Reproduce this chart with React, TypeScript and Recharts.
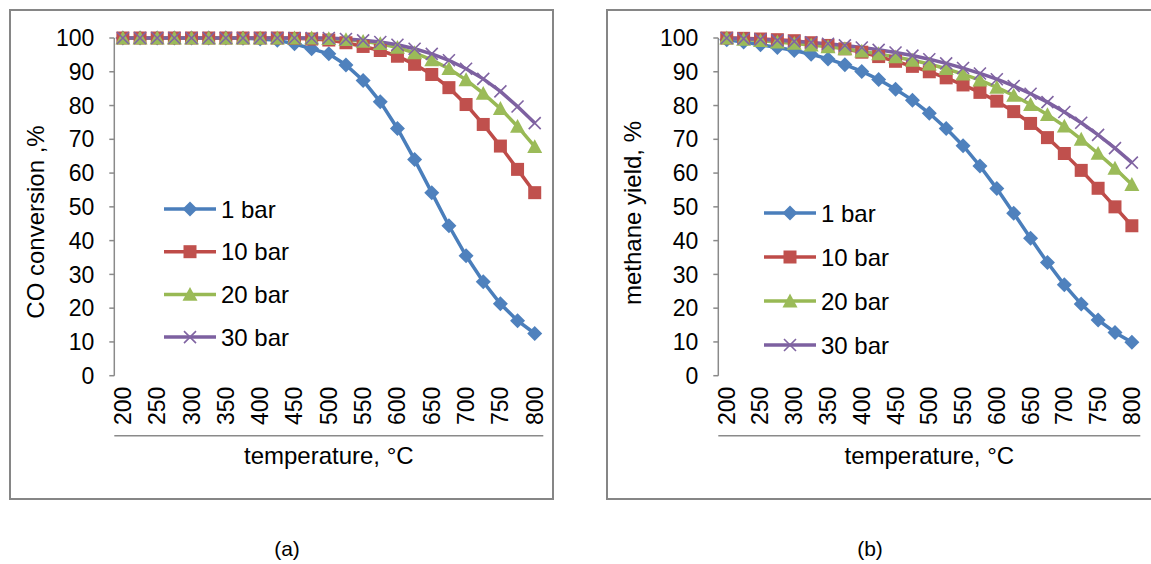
import { LineChart, Line, XAxis, YAxis } from "recharts";

// temperature categories, °C
const temps = [200, 225, 250, 275, 300, 325, 350, 375, 400, 425, 450, 475, 500, 525, 550, 575, 600, 625, 650, 675, 700, 725, 750, 775, 800];
const tempLabels = [200, 250, 300, 350, 400, 450, 500, 550, 600, 650, 700, 750, 800];
const yTicks = [0, 10, 20, 30, 40, 50, 60, 70, 80, 90, 100];

// (a) CO conversion, %
const co1 = [100, 100, 100, 100, 100, 100, 100, 99.9, 99.7, 99.3, 98.3, 96.8, 95.3, 92, 87.4, 81.1, 73.2, 64, 54.2, 44.4, 35.5, 27.8, 21.3, 16.3, 12.5];
const co10 = [100, 100, 100, 100, 100, 100, 100, 100, 100, 100, 99.9, 99.7, 99.4, 98.6, 97.5, 96.3, 94.6, 92.2, 89.2, 85.3, 80.3, 74.4, 68, 61.1, 54.2];
const co20 = [100, 100, 100, 100, 100, 100, 100, 100, 100, 100, 100, 100, 99.8, 99.5, 99, 98.3, 97.2, 95.6, 93.5, 90.9, 87.6, 83.6, 79.1, 73.8, 67.8];
const co30 = [100, 100, 100, 100, 100, 100, 100, 100, 100, 100, 100, 100, 100, 99.7, 99.3, 98.8, 98, 96.8, 95.3, 93.4, 90.9, 87.9, 84.2, 79.7, 74.8];

// (b) methane yield, %
const ch1 = [99.5, 98.8, 98, 97.2, 96.3, 95.2, 93.8, 92.1, 90.1, 87.7, 84.8, 81.6, 77.7, 73.2, 68.1, 62.1, 55.4, 48.1, 40.7, 33.5, 26.9, 21.2, 16.5, 12.8, 9.9];
const ch10 = [100, 99.9, 99.7, 99.5, 99.2, 98.6, 97.8, 96.8, 95.8, 94.5, 93.1, 91.6, 90, 88.2, 86.1, 83.9, 81.3, 78.2, 74.7, 70.5, 65.8, 60.8, 55.5, 50, 44.4];
const ch20 = [100, 99.6, 99.2, 98.8, 98.4, 97.9, 97.4, 96.8, 96.1, 95.3, 94.4, 93.4, 92.3, 90.9, 89.3, 87.5, 85.4, 83, 80.3, 77.3, 73.9, 70, 65.8, 61.4, 56.6];
const ch30 = [100, 99.8, 99.6, 99.3, 99, 98.7, 98.3, 97.8, 97.2, 96.5, 95.7, 94.8, 93.7, 92.5, 91.1, 89.5, 87.8, 85.8, 83.5, 81, 78.1, 74.9, 71.3, 67.4, 63.1];

const seriesNames = ["1 bar", "10 bar", "20 bar", "30 bar"];

const FONT = "'Liberation Sans', Arial, sans-serif";
const AXIS = "#8a8a8a";
const TICK_FS = 23;
const TITLE_FS = 24;

const styles = [
  { kind: "diamond", fill: "#4F81BD", line: "#4A7EBB" },
  { kind: "square", fill: "#C0504D", line: "#BE4B48" },
  { kind: "triangle", fill: "#9BBB59", line: "#98B954" },
  { kind: "cross", fill: "#8064A2", line: "#7D60A0" },
];

const half = (temps[1] - temps[0]) / 2;
const boundaries = [...temps.map((t) => t - half), temps[temps.length - 1] + half];
const domain = [boundaries[0], boundaries[boundaries.length - 1]];

function buildRows(series: number[][]) {
  return temps.map((t, i) => {
    const row: Record<string, number> = { t };
    series.forEach((s, k) => (row["s" + k] = s[i]));
    return row;
  });
}

function Mark({ cx, cy, kind, color }: { cx: number; cy: number; kind: string; color: string }) {
  if (cx == null || cy == null) return null;
  if (kind === "diamond") {
    const r = 7.5;
    return <path d={`M${cx},${cy - r}L${cx + r},${cy}L${cx},${cy + r}L${cx - r},${cy}Z`} fill={color} />;
  }
  if (kind === "square") {
    const s = 6.5;
    return <rect x={cx - s} y={cy - s} width={2 * s} height={2 * s} fill={color} />;
  }
  if (kind === "triangle") {
    const r = 7.5;
    return <path d={`M${cx},${cy - r}L${cx + r},${cy + r * 0.85}L${cx - r},${cy + r * 0.85}Z`} fill={color} />;
  }
  const r = 6;
  return (
    <path
      d={`M${cx - r},${cy - r}L${cx + r},${cy + r}M${cx - r},${cy + r}L${cx + r},${cy - r}`}
      stroke={color}
      strokeWidth={1.6}
      fill="none"
    />
  );
}

function RotTick(props: any) {
  const { x, y, payload } = props;
  const ty = y + 11;
  return (
    <text
      x={x}
      y={ty}
      transform={`rotate(-90 ${x} ${ty})`}
      textAnchor="end"
      dominantBaseline="central"
      fontSize={TICK_FS}
      fontFamily={FONT}
      fill="#000"
    >
      {payload.value}
    </text>
  );
}

interface PanelProps {
  left: number;
  plotLeft: number;
  series: number[][];
  yTitle: string;
  yTitleX: number;
  yTitleY: number;
  legendX: number;
  legendY: number;
  legendGap: number;
  caption: string;
  captionX: number;
}

function Panel(p: PanelProps) {
  const rows = buildRows(p.series);
  const chartW = 545;
  const plotCenter = p.left + p.plotLeft + (chartW - p.plotLeft - 10.7) / 2;
  return (
    <>
      <div
        style={{
          position: "absolute",
          left: p.left,
          top: 9,
          width: p.left > 600 ? 580 : chartW,
          height: 491,
          border: "2px solid #868686",
          boxSizing: "border-box",
        }}
      />
      <div style={{ position: "absolute", left: p.left, top: 0 }}>
        <LineChart
          width={chartW}
          height={500}
          data={rows}
          margin={{ top: 38, right: 10.7, bottom: 58.3, left: p.plotLeft - 60 }}
        >
          <XAxis
            xAxisId="ticks"
            type="number"
            dataKey="t"
            domain={domain}
            ticks={boundaries}
            interval={0}
            tick={false}
            height={6}
            tickSize={6}
            stroke={AXIS}
            strokeWidth={1.5}
          />
          <XAxis
            xAxisId="labels"
            type="number"
            dataKey="t"
            domain={domain}
            ticks={tempLabels}
            interval={0}
            axisLine={false}
            tickLine={false}
            tickSize={0}
            tickMargin={0}
            height={60}
            tick={<RotTick />}
          />
          <YAxis
            domain={[0, 100]}
            ticks={yTicks}
            interval={0}
            width={60}
            tickSize={5}
            tickMargin={15}
            stroke={AXIS}
            strokeWidth={1.5}
            tick={{ fill: "#000", fontSize: TICK_FS, fontFamily: FONT }}
          />
          {p.series.map((_, k) => (
            <Line
              key={k}
              xAxisId="ticks"
              dataKey={"s" + k}
              stroke={styles[k].line}
              strokeWidth={3.5}
              isAnimationActive={false}
              dot={(d: any) => (
                <Mark key={d.index} cx={d.cx} cy={d.cy} kind={styles[k].kind} color={styles[k].fill} />
              )}
              activeDot={false}
            />
          ))}
        </LineChart>
      </div>
      <div
        style={{
          position: "absolute",
          left: p.left + p.yTitleX,
          top: p.yTitleY,
          transform: "translate(-50%, -50%) rotate(-90deg)",
          whiteSpace: "nowrap",
          fontFamily: FONT,
          fontSize: TITLE_FS,
        }}
      >
        {p.yTitle}
      </div>
      <div
        style={{
          position: "absolute",
          left: plotCenter,
          top: 456,
          transform: "translate(-50%, -50%)",
          whiteSpace: "nowrap",
          fontFamily: FONT,
          fontSize: TITLE_FS,
        }}
      >
        temperature, °C
      </div>
      <svg
        style={{ position: "absolute", left: p.left + p.legendX, top: p.legendY }}
        width={170}
        height={190}
      >
        {seriesNames.map((name, k) => {
          const y = 12 + k * p.legendGap;
          return (
            <g key={name}>
              <line x1={0} x2={52} y1={y} y2={y} stroke={styles[k].line} strokeWidth={3.5} />
              <Mark cx={26} cy={y} kind={styles[k].kind} color={styles[k].fill} />
              <text x={57} y={y} dominantBaseline="central" fontSize={TITLE_FS} fontFamily={FONT} fill="#000">
                {name}
              </text>
            </g>
          );
        })}
      </svg>
      <div
        style={{
          position: "absolute",
          left: p.captionX,
          top: 549,
          transform: "translate(-50%, -50%)",
          fontFamily: FONT,
          fontSize: 21,
        }}
      >
        {p.caption}
      </div>
    </>
  );
}

export default function App() {
  return (
    <div style={{ position: "absolute", left: 0, top: 0, width: 1151, height: 564, overflow: "hidden", background: "#fff" }}>
      <Panel
        left={9}
        plotLeft={105.3}
        series={[co1, co10, co20, co30]}
        yTitle="CO conversion ,%"
        yTitleX={27}
        yTitleY={222}
        legendX={155}
        legendY={197}
        legendGap={42.7}
        caption="(a)"
        captionX={287}
      />
      <Panel
        left={606}
        plotLeft={112.3}
        series={[ch1, ch10, ch20, ch30]}
        yTitle="methane yield, %"
        yTitleX={27}
        yTitleY={213}
        legendX={158}
        legendY={201}
        legendGap={44}
        caption="(b)"
        captionX={870}
      />
    </div>
  );
}
